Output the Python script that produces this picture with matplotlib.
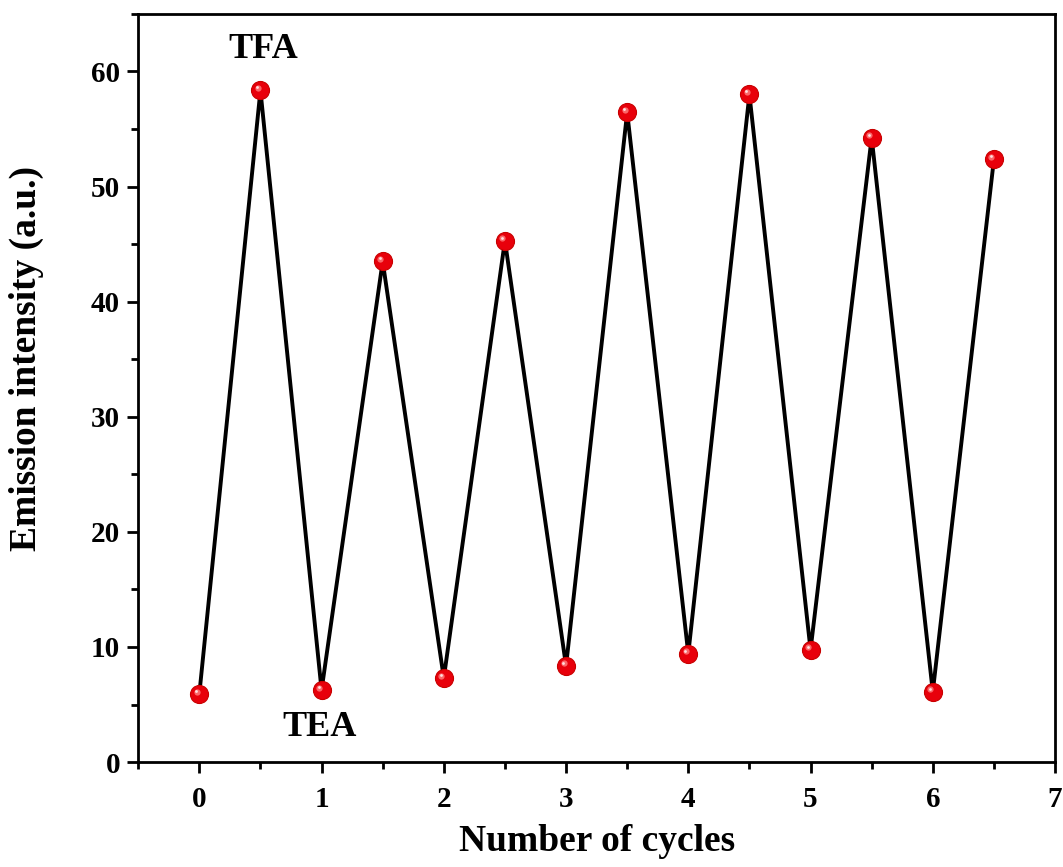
import matplotlib
matplotlib.use("Agg")
import matplotlib.pyplot as plt
import matplotlib.transforms as mtransforms
from matplotlib.ticker import MultipleLocator

cycles = [0, 0.5, 1, 1.5, 2, 2.5, 3, 3.5, 4, 4.5, 5, 5.5, 6, 6.5]
intensity = [5.9, 58.35, 6.25, 43.5, 7.3, 45.3, 8.35, 56.45, 9.4, 58.0, 9.75, 54.25, 6.1, 52.35]

plt.rcParams['font.family'] = ['Liberation Serif', 'DejaVu Serif']
plt.rcParams['font.weight'] = 'bold'

fig = plt.figure(figsize=(10.63, 8.67), dpi=100)
ax = fig.add_axes([0.13, 0.121, 0.8625, 0.863])

ax.plot(cycles, intensity, color='black', lw=2.8, zorder=2)
ax.plot(cycles, intensity, 'o', ms=13, mfc='#e8000b', mec='#c80000', mew=0.8, zorder=3)
hl = mtransforms.offset_copy(ax.transData, fig=fig, x=-2.5, y=2.5, units='dots')
ax.plot(cycles, intensity, 'o', ms=4.5, mfc='#ff8080', mec='none', transform=hl, zorder=4, alpha=0.8)
hl2 = mtransforms.offset_copy(ax.transData, fig=fig, x=-3, y=3, units='dots')
ax.plot(cycles, intensity, 'o', ms=2, mfc='#ffe0e0', mec='none', transform=hl2, zorder=5)

ax.set_xlim(-0.5, 7)
ax.set_ylim(0, 65)
ax.xaxis.set_major_locator(MultipleLocator(1))
ax.xaxis.set_minor_locator(MultipleLocator(0.5))
ax.yaxis.set_major_locator(MultipleLocator(10))
ax.yaxis.set_minor_locator(MultipleLocator(5))
ax.tick_params(axis='both', which='major', direction='out', length=8, width=2, labelsize=21)
ax.tick_params(axis='x', which='major', pad=9)
ax.tick_params(axis='y', which='major', pad=5)
ax.tick_params(axis='both', which='minor', direction='out', length=5, width=2)
for lbl in ax.get_xticklabels() + ax.get_yticklabels():
    lbl.set_fontweight('bold')
for s in ax.spines.values():
    s.set_linewidth(2)

ax.set_xlabel('Number of cycles', fontsize=27, fontweight='bold', labelpad=8)
ax.set_ylabel('Emission intensity (a.u.)', fontsize=27, fontweight='bold')
ax.yaxis.set_label_coords(-0.103, 0.539)

ax.text(0.52, 60.5, 'TFA', fontsize=26, fontweight='bold', ha='center', va='bottom')
ax.text(0.98, 1.6, 'TEA', fontsize=26, fontweight='bold', ha='center', va='bottom')

fig.savefig('out.png', dpi=100)
